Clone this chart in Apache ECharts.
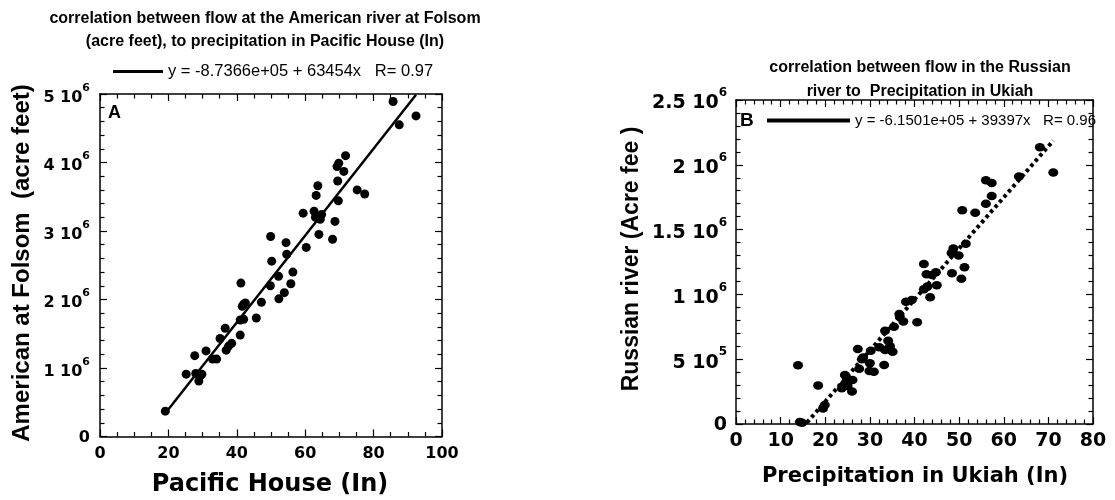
<!DOCTYPE html>
<html>
<head>
<meta charset="utf-8">
<script src="https://cdn.jsdelivr.net/npm/echarts@6/dist/echarts.min.js"></script>
<style>
html, body { margin: 0; padding: 0; background: #fff; }
#chart { width: 1115px; height: 500px; }
</style>
</head>
<body>
<div id="chart"></div>
<script>
// Panel A: American river at Folsom vs. precipitation at Pacific House
const folsomPrecip = [85.7, 92.4, 87.5, 71.8, 69.8, 69.3, 71.3, 69.5, 63.7, 63.2, 75.2, 77.4, 69.7, 59.4,
  62.6, 63.0, 64.8, 64.4, 68.7, 64.0, 68.0, 49.9, 54.4, 60.3, 54.6, 50.2, 52.2, 56.4, 49.8, 55.8, 53.9,
  52.3, 41.2, 42.0, 41.6, 42.5, 47.2, 41.0, 42.0, 45.7, 41.0, 36.6, 35.1, 38.5, 37.6, 36.9, 31.0, 27.7,
  32.9, 34.1, 25.2, 28.0, 29.8, 29.4, 28.9, 19.1];
const folsomFlow = [4890000, 4680000, 4550000, 4100000, 3990000, 3940000, 3870000, 3730000, 3660000,
  3520000, 3600000, 3540000, 3440000, 3260000, 3290000, 3200000, 3240000, 3170000, 3140000, 2950000,
  2880000, 2920000, 2830000, 2760000, 2660000, 2560000, 2340000, 2400000, 2200000, 2230000, 2100000,
  2010000, 2240000, 1930000, 1900000, 1950000, 1960000, 1700000, 1710000, 1730000, 1480000, 1580000,
  1430000, 1360000, 1320000, 1260000, 1250000, 1180000, 1130000, 1130000, 910000, 920000, 910000,
  890000, 810000, 370000];
const fitFolsom = { intercept: -8.7366e5, slope: 63454, r: 0.97 };

// Panel B: Russian river vs. precipitation at Ukiah
const ukiahPrecip = [68.1, 71.1, 63.4, 56.0, 57.3, 57.3, 56.0, 50.7, 53.6, 51.5, 48.7, 48.3, 49.9, 42.1,
  51.2, 42.7, 44.8, 43.9, 48.4, 50.5, 45.0, 42.1, 42.9, 43.5, 38.1, 39.4, 36.6, 36.7, 37.5, 40.6, 35.4,
  33.4, 34.1, 34.5, 32.1, 33.4, 35.1, 30.2, 27.3, 28.5, 28.2, 30.0, 33.2, 27.6, 29.9, 30.9, 13.9, 24.4,
  24.9, 26.1, 24.4, 25.0, 23.7, 26.0, 18.4, 19.9, 19.5, 14.3, 14.8];
const russianFlow = [2135000, 1940000, 1910000, 1880000, 1860000, 1760000, 1700000, 1650000, 1630000,
  1390000, 1355000, 1320000, 1300000, 1235000, 1210000, 1155000, 1170000, 1150000, 1163000, 1120000,
  1070000, 1040000, 1060000, 978000, 944000, 957000, 849000, 830000, 790000, 785000, 751000, 720000,
  643000, 600000, 592000, 571000, 558000, 566000, 579000, 514000, 500000, 468000, 455000, 427000,
  409000, 404000, 453000, 378000, 350000, 340000, 310000, 293000, 275000, 250000, 298000, 147000,
  120000, 15000, 10000];
const fitRussian = { intercept: -6.1501e5, slope: 39397, r: 0.96 };

// Tick labels: [mantissa, exponent]
const folsomTicks = [['0', ''], ['1 10', '6'], ['2 10', '6'], ['3 10', '6'], ['4 10', '6'], ['5 10', '6']];
const russianTicks = [['0', ''], ['5 10', '5'], ['1 10', '6'], ['1.5 10', '6'], ['2 10', '6'], ['2.5 10', '6']];

const ARIAL = '"Liberation Sans", Arial, sans-serif';
const DEJAVU = '"DejaVu Sans", sans-serif';

function expo(v) {
  return v.toExponential(4).replace(/e([+-])(\d)$/, 'e$10$2');
}
function fitLabel(fit) {
  return 'y = ' + expo(fit.intercept) + ' + ' + fit.slope + 'x   R= ' + fit.r;
}
function fitLine(fit, xs) {
  const lo = Math.min.apply(null, xs), hi = Math.max.apply(null, xs);
  return [[lo, fit.intercept + fit.slope * lo], [hi, fit.intercept + fit.slope * hi]];
}
function pairs(xs, ys) { return xs.map((x, i) => [x, ys[i]]); }

const eqA = fitLabel(fitFolsom);
const eqB = fitLabel(fitRussian);

function tickStyle(minorSplit) {
  return {
    axisLine: { show: true, onZero: false, lineStyle: { color: '#000', width: 1.5 } },
    axisTick: { show: true, inside: true, length: 7, lineStyle: { color: '#000', width: 1.2 } },
    minorTick: { show: true, splitNumber: minorSplit, length: 4.5, lineStyle: { color: '#000', width: 1.2 } },
    splitLine: { show: false },
    minorSplitLine: { show: false }
  };
}

function supLabels(ticks, step, size, supSize, family, margin) {
  return {
    margin: margin,
    formatter: function (v) {
      const t = ticks[Math.round(v / step)];
      if (!t) return '';
      return t[1] ? '{b|' + t[0] + '}{s|' + t[1] + '}' : '{b|' + t[0] + '}';
    },
    rich: {
      b: { fontSize: size, fontWeight: 'bold', fontFamily: family, color: '#000', lineHeight: size + 2, verticalAlign: 'bottom' },
      s: { fontSize: supSize, fontWeight: 'bold', fontFamily: family, color: '#000', lineHeight: size + 7, verticalAlign: 'top' }
    }
  };
}

const chart = echarts.init(document.getElementById('chart'), null, { renderer: 'canvas' });

const gridA = { left: 100, top: 94, right: 673, bottom: 63.5 };
const gridB = { left: 736, top: 100, right: 22, bottom: 76 };

const option = {
  animation: false,
  backgroundColor: '#fff',
  grid: [gridA, gridB],
  xAxis: [
    Object.assign({ type: 'value', gridIndex: 0, min: 0, max: 100, interval: 20, position: 'bottom',
      axisLabel: { margin: 9, fontSize: 16, fontWeight: 'bold', fontFamily: DEJAVU, color: '#000' } }, tickStyle(4)),
    Object.assign({ type: 'value', gridIndex: 1, min: 0, max: 80, interval: 10, position: 'bottom',
      axisLabel: { margin: 8, fontSize: 19, fontWeight: 'bold', fontFamily: DEJAVU, color: '#000' } }, tickStyle(5)),
    Object.assign({ type: 'value', gridIndex: 0, min: 0, max: 100, interval: 20, position: 'top',
      axisLabel: { show: false } }, tickStyle(4)),
    Object.assign({ type: 'value', gridIndex: 1, min: 0, max: 80, interval: 10, position: 'top',
      axisLabel: { show: false } }, tickStyle(5))
  ],
  yAxis: [
    Object.assign({ type: 'value', gridIndex: 0, min: 0, max: 5e6, interval: 1e6, position: 'left',
      axisLabel: supLabels(folsomTicks, 1e6, 16, 11, DEJAVU, 10) }, tickStyle(5)),
    Object.assign({ type: 'value', gridIndex: 1, min: 0, max: 2.5e6, interval: 5e5, position: 'left',
      axisLabel: supLabels(russianTicks, 5e5, 19, 12, DEJAVU, 9) }, tickStyle(5)),
    Object.assign({ type: 'value', gridIndex: 0, min: 0, max: 5e6, interval: 1e6, position: 'right',
      axisLabel: { show: false } }, tickStyle(5)),
    Object.assign({ type: 'value', gridIndex: 1, min: 0, max: 2.5e6, interval: 5e5, position: 'right',
      axisLabel: { show: false } }, tickStyle(5))
  ],
  legend: [
    { data: [eqA], left: 113, top: 63, padding: 0, itemWidth: 50, itemHeight: 3, icon: 'rect',
      itemStyle: { color: '#000' },
      textStyle: { fontSize: 16.5, fontFamily: ARIAL, color: '#000' } },
    { data: [eqB], left: 767, top: 113, padding: 0, itemWidth: 83, itemHeight: 4, icon: 'rect',
      itemStyle: { color: '#000' },
      textStyle: { fontSize: 15, fontFamily: ARIAL, color: '#000' } }
  ],
  series: [
    { type: 'scatter', xAxisIndex: 0, yAxisIndex: 0, data: pairs(folsomPrecip, folsomFlow),
      symbol: 'circle', symbolSize: 9, itemStyle: { color: '#000', opacity: 1 } },
    { type: 'line', name: eqA, xAxisIndex: 0, yAxisIndex: 0, data: fitLine(fitFolsom, folsomPrecip),
      symbol: 'none', clip: true, lineStyle: { color: '#000', width: 2.5 }, itemStyle: { color: '#000' } },
    { type: 'scatter', xAxisIndex: 1, yAxisIndex: 1, data: pairs(ukiahPrecip, russianFlow),
      symbol: 'circle', symbolSize: [10, 8.5], itemStyle: { color: '#000', opacity: 1 } },
    { type: 'line', name: eqB, xAxisIndex: 1, yAxisIndex: 1, data: fitLine(fitRussian, ukiahPrecip),
      symbol: 'none', clip: true,
      lineStyle: { color: '#000', width: 4, type: [3.5, 3.3], cap: 'butt' }, itemStyle: { color: '#000' } }
  ],
  graphic: [
    { type: 'text', x: 265, y: 19, style: { text: 'correlation between flow at the American river at Folsom',
      font: 'bold 16px ' + ARIAL, fill: '#000', align: 'center', verticalAlign: 'middle',
      textAlign: 'center', textVerticalAlign: 'middle' } },
    { type: 'text', x: 265, y: 42, style: { text: '(acre feet), to precipitation in Pacific House (In)',
      font: 'bold 16px ' + ARIAL, fill: '#000', align: 'center', verticalAlign: 'middle',
      textAlign: 'center', textVerticalAlign: 'middle' } },
    { type: 'text', x: 920, y: 68, style: { text: 'correlation between flow in the Russian',
      font: 'bold 16px ' + ARIAL, fill: '#000', align: 'center', verticalAlign: 'middle',
      textAlign: 'center', textVerticalAlign: 'middle' } },
    { type: 'text', x: 920, y: 92, style: { text: 'river to  Precipitation in Ukiah',
      font: 'bold 16px ' + ARIAL, fill: '#000', align: 'center', verticalAlign: 'middle',
      textAlign: 'center', textVerticalAlign: 'middle' } },
    { type: 'text', x: 108, y: 113, style: { text: 'A', font: 'bold 18px ' + ARIAL, fill: '#000',
      align: 'left', verticalAlign: 'middle', textAlign: 'left', textVerticalAlign: 'middle' } },
    { type: 'text', x: 740, y: 121, style: { text: 'B', font: 'bold 19px ' + ARIAL, fill: '#000',
      align: 'left', verticalAlign: 'middle', textAlign: 'left', textVerticalAlign: 'middle' } },
    { type: 'text', x: 22, y: 263, rotation: Math.PI / 2, style: { text: 'American at Folsom  (acre feet)',
      font: 'bold 24px ' + ARIAL, fill: '#000', align: 'center', verticalAlign: 'middle',
      textAlign: 'center', textVerticalAlign: 'middle' } },
    { type: 'text', x: 270, y: 485, style: { text: 'Pacific House (In)',
      font: 'bold 24px ' + DEJAVU, fill: '#000', align: 'center', verticalAlign: 'middle',
      textAlign: 'center', textVerticalAlign: 'middle' } },
    { type: 'text', x: 632, y: 259, rotation: Math.PI / 2, style: { text: 'Russian river (Acre fee )',
      font: 'bold 23px ' + ARIAL, fill: '#000', align: 'center', verticalAlign: 'middle',
      textAlign: 'center', textVerticalAlign: 'middle' } },
    { type: 'text', x: 915, y: 477, style: { text: 'Precipitation in Ukiah (In)',
      font: 'bold 21px ' + DEJAVU, fill: '#000', align: 'center', verticalAlign: 'middle',
      textAlign: 'center', textVerticalAlign: 'middle' } }
  ]
};

chart.setOption(option);
</script>
</body>
</html>
